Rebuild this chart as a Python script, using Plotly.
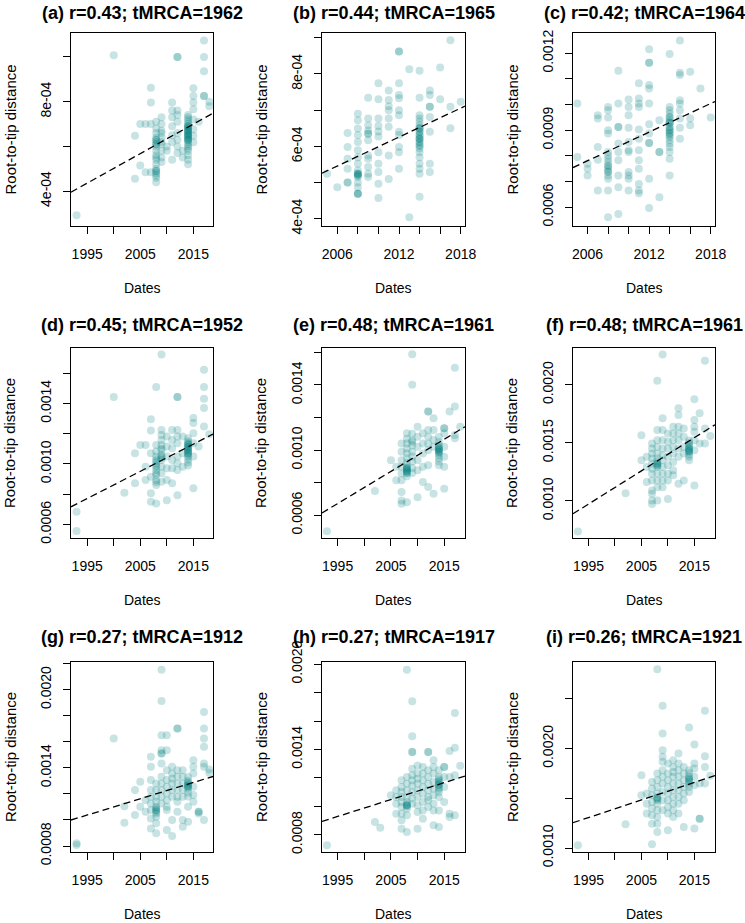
import plotly.graph_objects as go

W, H = 745, 923
FONT = 'Liberation Sans, Arial, Helvetica, sans-serif'
PT_COLOR = 'rgba(0,128,128,0.22)'

# root-to-tip distance (units of 1e-4) grouped by sampling year
a_pts = [
    (1993, [2.92]), (2000, [10.07]), (2004, [6.47, 4.55]), (2005, [7.0, 5.14]),
    (2006, [7.0, 4.84]), (2007, [8.62, 7.96, 7.0, 4.84]),
    (2008, [7.1, 6.8, 6.6, 6.4, 6.3, 6.3, 6.2, 6.1, 6.1, 6.0, 5.8, 5.6, 5.5, 5.4, 5.2, 5.0,
            4.9, 4.9, 4.8, 4.7, 4.6, 4.4]),
    (2009, [7.3, 7.0, 6.7, 6.6, 6.4, 6.2, 6.1, 5.8, 5.5, 5.3]),
    (2010, [6.0, 5.8]),
    (2011, [7.96, 7.6, 7.3, 6.9, 6.5, 6.2, 5.4]),
    (2012, [10.0, 10.0, 7.6, 7.4, 7.1, 6.6, 6.3, 6.0, 5.7]),
    (2013, [5.8, 5.5]),
    (2014, [7.4, 7.3, 7.2, 7.1, 7.0, 6.9, 6.9, 6.9, 6.8, 6.8, 6.7, 6.7, 6.7, 6.6, 6.6, 6.5,
            6.5, 6.5, 6.4, 6.4, 6.3, 6.3, 6.3, 6.2, 6.1, 6.0, 5.9, 5.8, 5.6, 5.4, 5.2]),
    (2015, [8.6, 8.25, 7.96, 7.66, 7.2, 6.77, 6.47, 6.18]),
    (2016, [7.1]), (2017, [10.74, 10.0, 9.36, 8.25, 8.25]), (2018, [8.0, 7.8]),
]
b_pts = [
    (2005, [5.24]), (2006, [4.87]), (2007, [6.37, 5.98, 5.66, 5.38, 5.0, 5.0]),
    (2008, [6.9, 6.72, 6.49, 6.31, 6.12, 5.89, 5.7, 5.52, 5.33, 5.24, 5.24, 5.24, 5.2, 5.2,
            5.15, 5.0, 4.87, 4.69, 4.69, 4.69]),
    (2009, [7.34, 6.77, 6.58, 6.44, 6.35, 6.35, 6.17, 5.75, 5.66, 5.43, 5.24, 5.15]),
    (2010, [7.74, 7.3, 6.77, 6.56, 6.41, 6.27, 5.84, 5.52, 5.29, 4.97, 4.57]),
    (2011, [7.54, 7.28, 7.11, 7.0, 6.77, 6.54, 5.75, 5.1]),
    (2012, [8.62, 8.62, 7.74, 7.42, 7.33, 7.0, 6.86, 6.4, 6.31, 5.98, 5.84, 5.38]),
    (2013, [8.13, 4.04]),
    (2014, [8.09, 7.34, 6.86, 6.77, 6.68, 6.58, 6.5, 6.5, 6.49, 6.4, 6.4, 6.31, 6.3, 6.22,
            6.2, 6.2, 6.12, 6.1, 6.03, 6.0, 5.94, 5.84, 5.7, 5.52, 5.38, 5.24, 4.61]),
    (2015, [7.54, 7.42, 7.09, 7.09, 6.81, 6.4, 5.52, 5.29]),
    (2016, [8.18, 7.3]), (2017, [8.93, 7.09, 6.5]), (2018, [7.23]),
]
c_pts = [
    (2005, [10.04, 7.96]), (2006, [7.7, 7.5, 7.24]), (2007, [9.59, 9.46, 8.35, 7.85, 6.65]),
    (2008, [9.91, 9.78, 9.5, 9.0, 8.87, 8.15, 8.02, 7.89, 7.76, 7.63, 7.6, 7.5, 7.4, 7.37,
            7.24, 7.11, 6.65, 5.61]),
    (2009, [11.32, 10.04, 9.13, 9.13, 8.48, 8.15, 7.83, 7.24, 6.78, 5.74]),
    (2010, [10.2, 9.91, 9.59, 9.1, 8.54, 8.22, 8.15, 7.37, 7.24, 7.11, 6.65]),
    (2011, [10.83, 10.24, 10.04, 9.91, 9.03, 8.67, 8.22, 7.83, 7.5, 6.91, 6.65, 6.55]),
    (2012, [12.16, 11.63, 11.63, 10.76, 10.63, 10.04, 9.23, 8.87, 8.5, 8.5, 7.11, 5.97]),
    (2013, [9.39, 8.15, 8.15, 6.39]),
    (2014, [11.97, 9.91, 9.78, 9.65, 9.52, 9.5, 9.39, 9.3, 9.3, 9.26, 9.13, 9.1, 9.0, 9.0,
            8.9, 8.87, 8.8, 8.74, 8.61, 8.48, 8.35, 8.15, 7.89, 7.24]),
    (2015, [12.5, 11.24, 11.15, 10.17, 10.04, 9.78, 9.46, 9.1, 8.67]),
    (2016, [11.28, 9.46, 9.2]), (2017, [10.63]), (2018, [9.5]),
]
d_pts = [
    (1993, [6.84, 5.58]), (2000, [14.42]), (2002, [8.1]), (2004, [10.71, 8.72]), (2005, [11.26]),
    (2006, [11.26, 9.82, 8.94]), (2007, [12.96, 12.21, 10.71, 9.16, 8.06, 7.5]),
    (2008, [15.08, 11.26, 10.82, 10.49, 10.3, 10.2, 10.04, 9.9, 9.8, 9.6, 9.4, 9.27, 8.94,
            8.8, 8.61, 7.39]),
    (2009, [17.23, 12.25, 11.92, 11.59, 11.26, 11.0, 10.93, 10.6, 10.5, 10.4, 10.27, 9.82,
            9.38, 8.83]),
    (2010, [11.81, 11.15, 10.49, 9.71, 8.94, 7.61]),
    (2011, [12.25, 11.59, 11.04, 10.27, 9.71, 8.72]),
    (2012, [14.42, 14.42, 12.25, 11.81, 11.37, 10.49, 10.04, 9.6, 7.94]),
    (2013, [11.81, 10.71, 9.82]),
    (2014, [11.7, 11.5, 11.4, 11.3, 11.3, 11.2, 11.1, 11.1, 11.0, 10.9, 10.9, 10.8, 10.7,
            10.7, 10.6, 10.5, 10.3, 10.1, 9.9]),
    (2015, [13.03, 12.7, 12.03, 11.37, 10.49, 8.39]),
    (2016, [11.15]), (2017, [16.23, 15.08, 14.31, 13.69, 12.48]), (2018, [11.97]),
]
e_pts = [
    (1993, [5.01]), (2002, [7.48]), (2005, [9.38]), (2006, [8.97, 8.14]),
    (2007, [10.41, 9.9, 9.38, 8.97, 8.56, 8.14, 7.42, 6.91, 6.7]),
    (2008, [11.03, 10.7, 10.4, 10.1, 9.8, 9.5, 9.2, 9.0, 8.9, 8.9, 8.8, 8.8, 8.7, 8.7, 8.6,
            8.6, 8.4, 6.8]),
    (2009, [15.88, 14.02, 11.0, 10.6, 10.5, 10.3, 9.9, 9.6, 9.3, 8.9, 8.6]),
    (2010, [11.44, 10.82, 10.21, 9.38, 8.76, 7.11]),
    (2011, [11.03, 10.41, 9.79, 8.97, 8.04]),
    (2012, [12.37, 12.37, 11.24, 10.82, 10.41, 10.0, 9.07, 7.73]),
    (2013, [11.96, 11.24, 10.62, 10.21, 7.32]),
    (2014, [10.8, 10.5, 10.3, 10.2, 10.1, 10.1, 10.0, 10.0, 9.9, 9.9, 9.8, 9.7, 9.5, 9.3, 9.07]),
    (2015, [11.34, 11.34, 11.03, 10.21, 9.59, 8.97, 7.63]),
    (2016, [12.37]), (2017, [15.05, 12.68, 10.93, 10.72]), (2018, [11.44]),
]
f_pts = [
    (1993, [7.37]), (2002, [10.66]), (2005, [15.66, 13.5]), (2006, [13.79, 12.92, 11.62]),
    (2007, [14.94, 14.51, 14.08, 13.64, 13.21, 12.77, 12.34, 11.76, 10.9, 10.61, 10.03, 9.74]),
    (2008, [20.35, 16.1, 15.23, 14.65, 14.08, 13.64, 13.4, 13.2, 13.21, 13.1, 13.0, 12.92,
            12.34, 11.76, 11.18, 10.03]),
    (2009, [22.6, 17.11, 16.1, 15.23, 14.51, 13.93, 13.5, 12.92, 12.34, 11.76, 11.18]),
    (2010, [15.81, 15.09, 14.51, 13.79, 13.06, 12.34, 11.76, 10.17]),
    (2011, [16.39, 15.81, 15.23, 14.65, 14.08, 13.35, 12.63, 12.2]),
    (2012, [17.98, 17.4, 16.39, 15.81, 15.23, 14.51, 13.79, 11.47]),
    (2013, [16.24, 15.52, 14.65, 14.08, 11.76]),
    (2014, [15.2, 15.0, 14.9, 14.7, 14.6, 14.5, 14.4, 14.3, 14.3, 14.2, 14.0, 13.8, 13.5]),
    (2015, [18.76, 16.97, 16.39, 15.95, 15.23, 14.36, 11.33]),
    (2016, [17.54, 14.94]), (2017, [22.08, 16.24, 14.94]), (2018, [15.58]),
]
g_pts = [
    (1993, [8.21, 8.08]), (2000, [16.25]), (2002, [11.06, 9.79]), (2004, [12.29, 10.38]),
    (2005, [12.93, 11.01]), (2006, [11.52, 10.63]),
    (2007, [14.84, 14.08, 13.06, 12.29, 11.78, 11.27, 10.76, 10.12, 9.35]),
    (2008, [12.8, 12.29, 11.78, 11.4, 11.01, 10.9, 10.76, 10.76, 10.6, 10.5, 10.25, 9.74, 8.97]),
    (2009, [21.53, 19.13, 16.5, 15.35, 15.1, 15.1, 14.33, 13.31, 12.8, 12.29, 11.78, 11.27]),
    (2010, [16.5, 15.35, 13.82, 13.06, 12.55, 12.03, 11.52, 11.01, 10.76, 9.23]),
    (2011, [14.08, 13.57, 13.18, 12.8, 12.29, 11.78, 9.99, 8.77]),
    (2012, [17.01, 17.01, 13.82, 13.31, 12.8, 12.29, 11.78, 11.4, 10.63]),
    (2013, [13.82, 13.31, 12.8, 12.29, 11.78, 9.99, 9.48]),
    (2014, [13.3, 13.0, 12.9, 12.8, 12.7, 12.6, 12.6, 12.5, 12.4, 12.1, 11.8, 11.01, 9.86]),
    (2015, [14.59, 14.08, 13.57, 12.55, 11.91, 11.4]),
    (2016, [10.63, 10.63, 10.5]),
    (2017, [18.29, 17.01, 16.25, 15.61, 14.33, 14.08, 9.99]),
    (2018, [13.87, 13.62]),
]
h_pts = [
    (1993, [7.25]), (2002, [8.89]), (2003, [8.49]), (2005, [10.77]),
    (2006, [11.12, 10.65, 10.18, 9.48]),
    (2007, [11.83, 11.36, 11.0, 10.65, 10.3, 9.95, 9.48, 9.01, 8.42]),
    (2008, [19.62, 12.06, 11.59, 11.12, 10.65, 10.3, 10.1, 10.07, 10.07, 10.0, 9.83, 9.36, 8.19]),
    (2009, [17.39, 14.93, 13.82, 13.82, 12.65, 12.18, 11.83, 11.47, 11.0, 10.54, 10.18]),
    (2010, [12.88, 12.3, 11.94, 11.59, 11.12, 10.65, 10.07, 9.6, 8.42]),
    (2011, [12.77, 12.3, 11.83, 11.36, 10.89, 10.3, 9.71, 9.13]),
    (2012, [13.82, 13.82, 12.53, 12.06, 11.59, 11.12, 10.65, 10.42, 9.95]),
    (2013, [13.24, 12.77, 12.3, 11.71, 11.24, 10.77, 10.18, 9.71, 8.66]),
    (2014, [12.53, 12.06, 11.9, 11.8, 11.7, 11.6, 11.5, 11.5, 11.3, 11.2, 11.0, 10.65, 9.71, 8.54]),
    (2015, [12.77, 12.77, 12.06, 11.36, 10.3]),
    (2016, [13.89, 12.06, 9.48, 9.24]),
    (2017, [16.57, 14.13, 12.18, 9.36]),
    (2018, [12.86]),
]
i_pts = [
    (1993, [10.27]), (2002, [12.38]), (2005, [17.32, 15.3]), (2006, [15.47, 14.46, 13.46]),
    (2007, [16.64, 15.97, 15.3, 14.63, 13.96, 13.29, 12.45, 10.37]),
    (2008, [27.95, 17.48, 16.81, 16.14, 15.47, 15.1, 14.97, 14.97, 14.8, 14.46, 13.79, 13.12,
            12.45, 11.61]),
    (2009, [24.3, 21.51, 19.83, 19.16, 18.66, 17.82, 17.15, 16.48, 15.64, 14.8, 13.79]),
    (2010, [18.49, 17.48, 16.81, 16.14, 15.47, 14.8, 14.13, 13.46, 11.78]),
    (2011, [18.83, 18.15, 17.65, 17.15, 16.48, 15.81, 15.13, 14.46, 13.79, 13.12]),
    (2012, [19.5, 18.49, 17.82, 17.15, 16.48, 15.81, 15.13, 14.46, 13.46]),
    (2013, [18.15, 17.48, 16.81, 16.14, 15.47, 14.8, 12.11]),
    (2014, [22.11, 17.82, 17.5, 17.15, 17.0, 16.9, 16.8, 16.64, 16.4, 16.14, 15.64]),
    (2015, [20.4, 18.49, 17.99, 17.15, 16.31, 11.95]),
    (2016, [16.48, 12.95, 12.95]),
    (2017, [23.79, 19.23, 18.15, 16.48]),
    (2018, [17.25]),
]

panels = ['a', 'b', 'c', 'd', 'e', 'f', 'g', 'h', 'i']
all_pts = [a_pts, b_pts, c_pts, d_pts, e_pts, f_pts, g_pts, h_pts, i_pts]
r_vals = [0.43, 0.44, 0.42, 0.45, 0.48, 0.48, 0.27, 0.27, 0.26]
tmrca = [1962, 1965, 1964, 1952, 1961, 1961, 1912, 1917, 1921]
rates = [1.32e-5, 1.331e-5, 1.86e-5, 1.795e-5, 1.975e-5, 2.86e-5, 1.25e-5, 1.19e-5, 1.765e-5]

# axis ticks (value, label) per panel
x_long = ([1995, 2000, 2005, 2010, 2015], ['1995', '', '2005', '', '2015'])
x_short = ([2006, 2008, 2010, 2012, 2014, 2016, 2018], ['2006', '', '', '2012', '', '', '2018'])
x_ticks = [x_long, x_short, x_short, x_long, x_long, x_long, x_long, x_long, x_long]
y_ticks = [
    ([4e-4, 6e-4, 8e-4, 1e-3], ['4e-04', '', '8e-04', '']),
    ([4e-4, 5e-4, 6e-4, 7e-4, 8e-4, 9e-4], ['4e-04', '', '6e-04', '', '8e-04', '']),
    ([6e-4, 7e-4, 8e-4, 9e-4, 1e-3, 1.1e-3, 1.2e-3], ['0.0006', '', '', '0.0009', '', '', '0.0012']),
    ([6e-4, 8e-4, 1e-3, 1.2e-3, 1.4e-3, 1.6e-3], ['0.0006', '', '0.0010', '', '0.0014', '']),
    ([6e-4, 8e-4, 1e-3, 1.2e-3, 1.4e-3, 1.6e-3], ['0.0006', '', '0.0010', '', '0.0014', '']),
    ([1e-3, 1.5e-3, 2e-3], ['0.0010', '0.0015', '0.0020']),
    ([8e-4, 1e-3, 1.2e-3, 1.4e-3, 1.6e-3, 1.8e-3, 2e-3, 2.2e-3],
     ['0.0008', '', '', '0.0014', '', '', '0.0020', '']),
    ([8e-4, 1e-3, 1.2e-3, 1.4e-3, 1.6e-3, 1.8e-3, 2e-3],
     ['0.0008', '', '', '0.0014', '', '', '0.0020']),
    ([1e-3, 1.5e-3, 2e-3, 2.5e-3], ['0.0010', '', '0.0020', '']),
]
x_ranges = [[1991.95, 2018.7], [2004.51, 2018.42], [2004.58, 2018.42],
            [1991.95, 2018.7], [1992.07, 2018.9], [1992.07, 2018.9],
            [1991.95, 2018.7], [1992.07, 2018.9], [1992.07, 2018.9]]
y_ranges = [[2.44e-4, 1.107e-3], [3.8e-4, 9.13e-4], [5.27e-4, 1.279e-3],
            [5.11e-4, 1.766e-3], [4.6e-4, 1.627e-3], [6.8e-4, 2.317e-3],
            [7.54e-4, 2.212e-3], [6.78e-4, 2.016e-3], [9.6e-4, 2.869e-3]]

# plot boxes in pixels
col_x = [(71, 213), (322, 465), (573, 715)]
row_y = [(33, 226), (348, 538), (662, 852)]
title_y = [13, 325, 637]


def px(x):
    return x / W


def py(y):
    return 1 - y / H


fig = go.Figure()
layout = dict(
    width=W, height=H, margin=dict(l=0, r=0, t=0, b=0, autoexpand=False),
    plot_bgcolor='white', paper_bgcolor='white', showlegend=False,
    font=dict(family=FONT, size=14, color='black'),
)
annotations = []

for k, letter in enumerate(panels):
    row, col = divmod(k, 3)
    x0, x1 = col_x[col]
    y0, y1 = row_y[row]
    ax = '' if k == 0 else str(k + 1)

    xs, ys = [], []
    for year, vals in all_pts[k]:
        for v in vals:
            xs.append(year)
            ys.append(v * 1e-4)

    fig.add_trace(go.Scatter(
        x=xs, y=ys, mode='markers', xaxis='x' + ax, yaxis='y' + ax,
        marker=dict(size=8, color=PT_COLOR, line=dict(width=0)),
        hoverinfo='skip',
    ))
    lx = x_ranges[k]
    fig.add_trace(go.Scatter(
        x=lx, y=[rates[k] * (x - tmrca[k]) for x in lx], mode='lines',
        xaxis='x' + ax, yaxis='y' + ax,
        line=dict(color='black', width=1.3, dash='7px,4px'),
        hoverinfo='skip',
    ))

    common = dict(showline=True, mirror=True, linecolor='black', linewidth=1,
                  ticks='outside', ticklen=7, tickwidth=1, tickcolor='black',
                  showgrid=False, zeroline=False, automargin=False,
                  tickfont=dict(size=14))
    layout['xaxis' + ax] = dict(
        domain=[px(x0), px(x1)], anchor='y' + ax, range=x_ranges[k],
        tickmode='array', tickvals=x_ticks[k][0], ticktext=x_ticks[k][1],
        ticklabelstandoff=8, **common)
    layout['yaxis' + ax] = dict(
        domain=[py(y1), py(y0)], anchor='x' + ax, range=y_ranges[k],
        tickmode='array', tickvals=y_ticks[k][0], ticktext=y_ticks[k][1],
        tickangle=-90, ticklabelstandoff=6, **common)

    annotations.append(dict(
        text='<b>(%s) r=%.2f; tMRCA=%d</b>' % (letter, r_vals[k], tmrca[k]),
        x=px((x0 + x1) / 2), y=py(title_y[row]), xref='paper', yref='paper',
        xanchor='center', yanchor='middle', showarrow=False,
        font=dict(size=18, family=FONT, color='black')))
    annotations.append(dict(
        text='Dates', x=px((x0 + x1) / 2), y=py(y1 + 62),
        xref='paper', yref='paper', xanchor='center', yanchor='middle',
        showarrow=False, font=dict(size=14, family=FONT, color='black')))
    annotations.append(dict(
        text='Root-to-tip distance', x=px(x0 - 61), y=py((y0 + y1) / 2),
        xref='paper', yref='paper', xanchor='center', yanchor='middle',
        textangle=-90, showarrow=False,
        font=dict(size=15, family=FONT, color='black')))

layout['annotations'] = annotations
fig.update_layout(**layout)
# drop the default 8px page margin so the figure fills the window
fig.write_html('out.html', config={'displayModeBar': False},
               post_script="document.body.style.margin='0';")
